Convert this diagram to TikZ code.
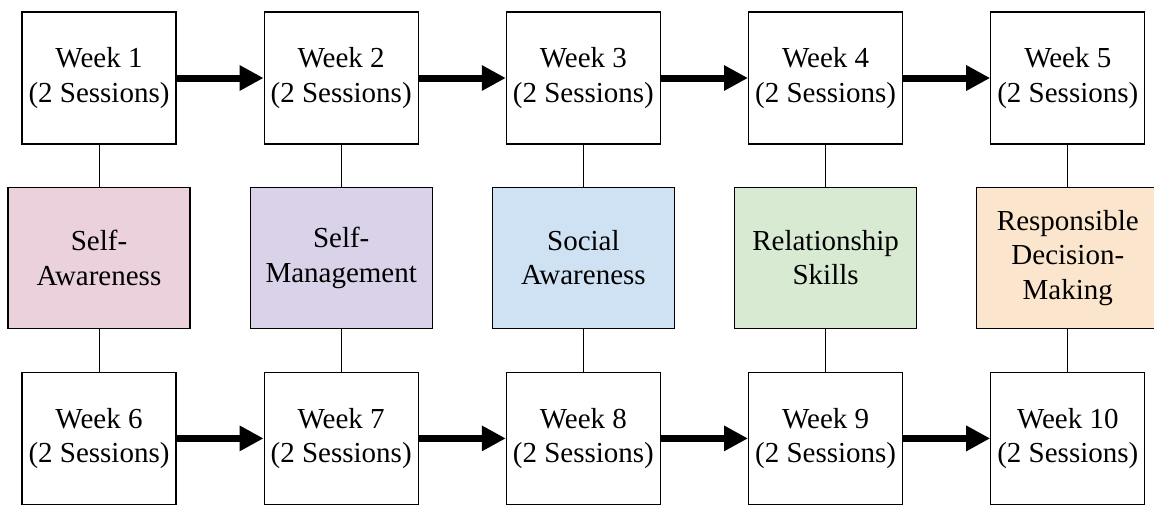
\documentclass[tikz,border=0pt]{standalone}
\usepackage{fontspec}
\setmainfont{Liberation Serif}
\usepackage{xcolor}
\usetikzlibrary{positioning, arrows.meta}
\definecolor{selfaw}{HTML}{EAD1DC}
\definecolor{selfman}{HTML}{D9D2E9}
\definecolor{socaw}{HTML}{CFE2F3}
\definecolor{relsk}{HTML}{D9EAD3}
\definecolor{respdm}{HTML}{FCE5CD}

\begin{document}
\begin{tikzpicture}[
  x=1pt, y=1pt,
  node distance=42pt and 87pt,
  weekbox/.style={draw, line width=1.2pt, minimum width=154pt,
              minimum height=132pt, align=center, inner sep=0pt,
              font=\fontsize{29}{34.5}\selectfont},
  skillbox/.style={draw, line width=1.2pt, minimum width=182pt,
              minimum height=141pt, align=center, inner sep=0pt,
              font=\fontsize{29}{34.5}\selectfont},
  flow/.style={line width=7pt, -{Triangle[length=24pt, width=24pt]}},
  link/.style={line width=1pt}
]
  \useasboundingbox (0,0) rectangle (1154,-504);

  % Top row: weeks 1--5
  \node[weekbox] (w1) at (99,-78) {Week 1\\(2 Sessions)};
  \node[weekbox, right=of w1] (w2) {Week 2\\(2 Sessions)};
  \node[weekbox, right=of w2] (w3) {Week 3\\(2 Sessions)};
  \node[weekbox, right=of w3] (w4) {Week 4\\(2 Sessions)};
  \node[weekbox, right=of w4] (w5) {Week 5\\(2 Sessions)};

  % Middle row: competencies
  \node[skillbox, fill=selfaw, below=42pt of w1] (s1) {Self-\\Awareness};
  \node[skillbox, fill=selfman, below=42pt of w2] (s2) {Self-\\Management};
  \node[skillbox, fill=socaw, below=42pt of w3] (s3) {Social\\Awareness};
  \node[skillbox, fill=relsk, below=42pt of w4] (s4) {Relationship\\Skills};
  \node[skillbox, fill=respdm, below=42pt of w5] (s5)
    {Responsible\\Decision-\\Making};

  % Bottom row: weeks 6--10
  \node[weekbox, below=43pt of s1] (w6) {Week 6\\(2 Sessions)};
  \node[weekbox, below=43pt of s2] (w7) {Week 7\\(2 Sessions)};
  \node[weekbox, below=43pt of s3] (w8) {Week 8\\(2 Sessions)};
  \node[weekbox, below=43pt of s4] (w9) {Week 9\\(2 Sessions)};
  \node[weekbox, below=43pt of s5] (w10) {Week 10\\(2 Sessions)};

  % Arrows
  \draw[flow] (w1) -- (w2);
  \draw[flow] (w2) -- (w3);
  \draw[flow] (w3) -- (w4);
  \draw[flow] (w4) -- (w5);
  \draw[flow] (w6) -- (w7);
  \draw[flow] (w7) -- (w8);
  \draw[flow] (w8) -- (w9);
  \draw[flow] (w9) -- (w10);

  % Links
  \draw[link] (w1) -- (s1) -- (w6);
  \draw[link] (w2) -- (s2) -- (w7);
  \draw[link] (w3) -- (s3) -- (w8);
  \draw[link] (w4) -- (s4) -- (w9);
  \draw[link] (w5) -- (s5) -- (w10);
\end{tikzpicture}
\end{document}
